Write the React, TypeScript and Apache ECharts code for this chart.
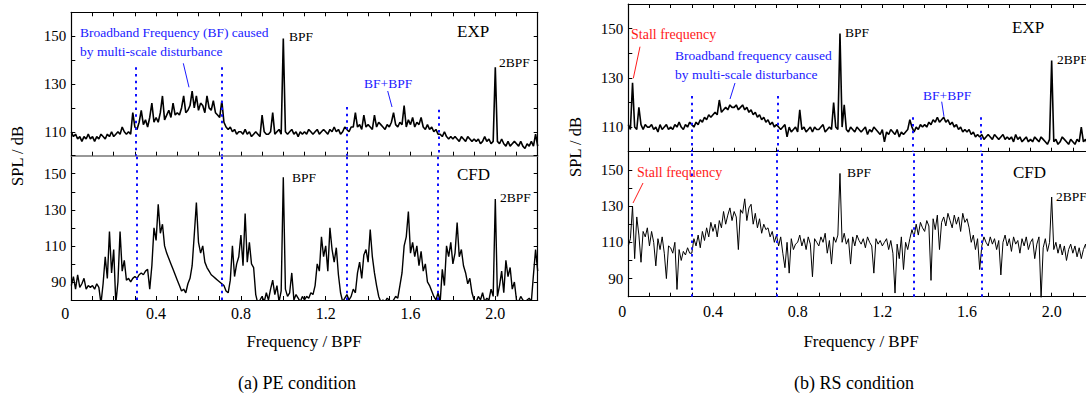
import React, { useEffect, useRef } from "react";
import * as echarts from "echarts";

const FONT = "'Liberation Serif', 'Times New Roman', serif";
const STEP = 0.01;

// SPL (dB) sampled every 0.01 BPF from 0 to 2.2
const peExp = [
  110,108,109,107,108,106,108,107,109,107,
  108,106,108,107,109,108,107,109,108,110,
  108,109,110,109,112,110,109,110,109,118,
  112,111,114,119,113,115,112,116,122,114,
  116,114,118,125,115,117,119,116,122,117,
  118,117,120,125,118,119,121,127,120,125,
  119,122,121,118,125,120,119,123,118,117,
  116,123,114,112,111,112,110,111,109,110,
  110,109,111,109,110,108,109,110,109,108,
  117,110,109,109,110,118,109,110,111,109,
  149,110,109,110,111,109,110,108,110,109,
  110,109,111,110,109,110,111,109,110,111,
  110,109,111,110,112,110,111,109,110,112,
  111,110,112,112,118,112,113,111,117,112,
  113,112,111,117,112,114,113,112,111,113,
  112,114,118,113,112,114,113,121,112,115,
  113,116,112,114,113,116,112,111,113,111,
  112,110,111,109,109,108,110,108,107,108,
  107,108,107,106,108,107,106,108,107,106,
  107,106,107,105,106,108,106,107,105,106,
  137,106,105,107,105,104,106,104,105,106,
  105,104,106,104,103,105,104,106,104,109,
  104,
];

const peCfd = [
  88,93,86,94,87,89,92,86,88,87,
  88,86,89,87,78,89,104,92,118,95,
  108,78,90,118,96,102,91,92,90,92,
  93,92,94,95,94,96,97,86,99,120,
  113,133,117,122,110,106,103,100,97,94,
  91,88,85,86,84,89,92,99,116,134,
  112,106,110,101,98,96,94,93,92,91,
  90,89,88,85,84,91,110,93,100,104,
  116,99,128,101,112,100,98,83,78,80,
  82,79,84,80,86,91,83,88,79,85,
  148,86,82,84,95,80,83,81,79,82,
  80,82,81,84,83,88,100,96,115,104,
  110,96,120,108,101,109,94,84,79,81,
  83,80,82,86,84,95,101,92,105,108,
  101,119,104,95,88,82,79,80,79,81,
  80,79,80,82,81,88,95,110,115,129,
  106,112,104,110,99,107,96,100,90,88,
  85,82,80,84,79,97,88,110,104,112,
  100,106,123,104,108,99,95,89,92,84,
  80,79,82,80,84,79,81,80,86,82,
  136,82,88,96,84,102,93,98,86,90,
  80,79,82,80,79,80,81,79,94,108,
  96,
];

const rsExp = [
  111,109,128,110,109,118,111,109,111,110,
  110,111,109,110,108,111,109,110,111,109,
  110,109,111,110,112,110,109,111,110,112,
  111,110,112,111,113,112,114,113,115,114,
  115,116,115,121,116,117,118,117,119,118,
  118,119,117,118,119,117,118,116,117,115,
  116,114,115,113,114,112,113,111,112,110,
  111,110,109,110,111,106,110,108,109,110,
  108,117,109,110,108,109,110,108,110,109,
  109,110,111,108,109,110,109,120,110,109,
  148,110,119,109,108,110,109,108,110,109,
  108,109,110,107,109,108,110,109,108,107,
  109,104,108,107,109,108,107,109,106,108,
  107,108,109,113,110,108,110,109,111,110,
  111,110,112,111,113,112,114,112,113,114,
  112,113,111,112,110,111,109,110,108,109,
  108,109,107,108,106,107,106,107,105,106,
  107,106,105,107,106,105,106,107,105,106,
  105,106,104,107,105,106,104,105,106,104,
  105,104,106,105,104,106,105,104,103,105,
  137,104,105,103,104,106,105,104,103,105,
  104,103,105,104,110,104,105,103,104,106,
  104,
];

const rsCfd = [
  108,112,130,101,124,114,99,116,113,118,
  108,116,110,97,112,106,113,104,90,108,
  107,104,110,84,106,100,105,103,107,104,
  104,112,108,114,107,116,111,118,113,121,
  116,120,113,122,118,127,120,125,129,122,
  127,124,106,128,126,134,122,129,131,120,
  126,118,123,115,120,117,118,113,116,110,
  114,108,113,104,96,110,93,112,106,109,
  110,114,108,112,106,113,109,91,112,110,
  108,113,110,115,104,111,98,113,110,114,
  148,110,115,109,112,98,113,108,114,111,
  109,112,107,113,110,108,93,112,109,111,
  108,110,112,106,111,104,82,109,101,113,
  95,110,106,112,117,113,120,114,121,118,
  116,122,119,89,123,117,125,106,121,124,
  119,126,122,118,125,120,124,116,126,121,
  123,118,110,114,106,112,95,108,113,110,
  108,113,109,112,106,111,92,110,114,108,
  112,105,113,109,111,104,112,108,113,106,
  110,112,101,109,113,79,107,112,105,110,
  135,106,110,104,109,103,108,100,106,109,
  104,108,102,107,101,106,109,103,107,104,
  106,
];

const xTickLabels = ["0", "0.4", "0.8", "1.2", "1.6", "2.0"];
const yTopLabels = ["110", "130", "150"];
const yBottomLabels = ["90", "110", "130", "150"];

const peBandEdges = [0.306, 0.712, 1.297, 1.734];
const peBandTops = [137, 137, 120.4, 119.2];
const rsBandEdges = [0.3, 0.704, 1.346, 1.666];
const rsBandTops = [122.6, 122.6, 114, 114];

const toPairs = (vals: number[]) =>
  vals.map((v, i) => [Number((i * STEP).toFixed(2)), v]);

const xFormatter = (v: number) => {
  const k = v / 0.4;
  const r = Math.round(k);
  if (Math.abs(k - r) > 1e-6) return "";
  const s = xTickLabels[r];
  if (s === undefined) return "";
  return r === 0 ? "{z|" + s + "}" : s;
};

const xAxisDef = (
  gridIndex: number,
  position: string,
  showLabel: boolean,
  margin: number,
  lineColor = "#000",
  lineWidth = 1.2
) => ({
  type: "value",
  gridIndex,
  position,
  min: 0,
  max: 2.2,
  interval: 0.1,
  axisLine: { show: true, onZero: false, lineStyle: { color: lineColor, width: lineWidth } },
  axisTick: { show: true, inside: true, length: 4, lineStyle: { color: "#000", width: 1 } },
  splitLine: { show: false },
  axisLabel: {
    show: showLabel,
    margin,
    color: "#000",
    fontSize: 16,
    fontFamily: FONT,
    formatter: xFormatter,
    rich: { z: { padding: [0, 12, 0, 0], color: "#000", fontSize: 16, fontFamily: FONT } },
  },
});

const yAxisDef = (
  gridIndex: number,
  position: string,
  min: number,
  labels: string[] | null
) => ({
  type: "value",
  gridIndex,
  position,
  min,
  max: 160,
  interval: 10,
  axisLine: { show: true, onZero: false, lineStyle: { color: "#000", width: 1.2 } },
  axisTick: { show: true, inside: true, length: 4, lineStyle: { color: "#000", width: 1 } },
  splitLine: { show: false },
  axisLabel: {
    show: !!labels,
    margin: 5,
    color: "#000",
    fontSize: 15,
    fontFamily: FONT,
    formatter: (v: number) => (labels && labels.includes(String(v)) ? String(v) : ""),
  },
});

const dotted = { color: "#1010ff", width: 2, type: [2.5, 4.2] as any };

const topMarks = (edges: number[], tops: number[], yMin: number) => ({
  silent: true,
  symbol: ["none", "none"],
  label: { show: false },
  lineStyle: dotted,
  animation: false,
  data: edges.map((x, i) => [{ coord: [x, tops[i]] }, { coord: [x, yMin] }]),
});

const fullMarks = (edges: number[]) => ({
  silent: true,
  symbol: ["none", "none"],
  label: { show: false },
  lineStyle: dotted,
  animation: false,
  data: edges.map((x) => ({ xAxis: x })),
});

const txt = (
  text: string,
  x: number,
  y: number,
  fontSize: number,
  fill = "#000",
  align = "left",
  rotation = 0
) => ({
  type: "text",
  x,
  y,
  rotation,
  silent: true,
  style: { text, fill, fontSize, fontFamily: FONT, align, verticalAlign: "middle" },
});

const seg = (x1: number, y1: number, x2: number, y2: number, stroke: string) => ({
  type: "line",
  silent: true,
  shape: { x1, y1, x2, y2 },
  style: { stroke, lineWidth: 1 },
});

const BLUE = "#1a1aff";
const RED = "#ff1a1a";
const W = 1100; // canvas is a bit wider than the window; the right panel runs past the edge

export default function App() {
  const ref = useRef<HTMLDivElement>(null);
  useEffect(() => {
    if (!ref.current) return;
    const chart = echarts.init(ref.current, undefined, { renderer: "svg" });
    const option: any = {
      animation: false,
      backgroundColor: "#fff",
      textStyle: { fontFamily: FONT },
      grid: [
        { left: 71.3, right: W - 537.7, top: 12.3, bottom: 239.3 },
        { left: 71.3, right: W - 537.7, top: 155.7, bottom: 95 },
        { left: 628.3, right: W - 1094, top: 4, bottom: 243.3 },
        { left: 628.3, right: W - 1094, top: 151.7, bottom: 98.3 },
      ],
      xAxis: [
        xAxisDef(0, "bottom", false, 5, "#777", 1.6),
        xAxisDef(0, "top", false, 5),
        xAxisDef(1, "bottom", true, 5),
        xAxisDef(2, "bottom", false, 5),
        xAxisDef(2, "top", false, 5),
        xAxisDef(3, "bottom", true, 7),
      ],
      yAxis: [
        yAxisDef(0, "left", 100, yTopLabels),
        yAxisDef(0, "right", 100, null),
        yAxisDef(1, "left", 80, yBottomLabels),
        yAxisDef(1, "right", 80, null),
        yAxisDef(2, "left", 100, yTopLabels),
        yAxisDef(2, "right", 100, null),
        yAxisDef(3, "left", 80, yBottomLabels),
        yAxisDef(3, "right", 80, null),
      ],
      series: [
        {
          type: "line",
          xAxisIndex: 0,
          yAxisIndex: 0,
          data: toPairs(peExp),
          showSymbol: false,
          symbol: "none",
          clip: true,
          lineStyle: { color: "#000", width: 1.6 },
          markLine: topMarks(peBandEdges, peBandTops, 100),
        },
        {
          type: "line",
          xAxisIndex: 2,
          yAxisIndex: 2,
          data: toPairs(peCfd),
          showSymbol: false,
          symbol: "none",
          clip: true,
          lineStyle: { color: "#000", width: 1.4 },
          markLine: fullMarks(peBandEdges),
        },
        {
          type: "line",
          xAxisIndex: 3,
          yAxisIndex: 4,
          data: toPairs(rsExp),
          showSymbol: false,
          symbol: "none",
          clip: true,
          lineStyle: { color: "#000", width: 1.6 },
          markLine: topMarks(rsBandEdges, rsBandTops, 100),
        },
        {
          type: "line",
          xAxisIndex: 5,
          yAxisIndex: 6,
          data: toPairs(rsCfd),
          showSymbol: false,
          symbol: "none",
          clip: true,
          lineStyle: { color: "#000", width: 1 },
          markLine: fullMarks(rsBandEdges),
        },
      ],
      graphic: [
        // left panel annotations
        txt("Broadband Frequency (BF) caused", 80, 32, 13.5, BLUE),
        txt("by multi-scale disturbance", 80, 51, 13.5, BLUE),
        seg(183.3, 63.3, 189, 87.3, BLUE),
        txt("BPF", 289, 36, 13.5),
        txt("EXP", 457, 31, 17),
        txt("2BPF", 499, 62, 13.5),
        txt("BF+BPF", 364, 83, 13.5, BLUE),
        seg(387.7, 91, 392, 107, BLUE),
        txt("BPF", 292, 177, 13.5),
        txt("CFD", 457, 174, 17),
        txt("2BPF", 500, 197.5, 13.5),
        // right panel annotations
        txt("Stall frequency", 631, 34, 14, RED),
        seg(640, 46.7, 633.3, 78.3, RED),
        txt("Broadband frequency caused", 675, 55, 13.5, BLUE),
        txt("by multi-scale disturbance", 675, 74, 13.5, BLUE),
        seg(735, 83, 730, 99, BLUE),
        txt("BPF", 845, 32, 13.5),
        txt("EXP", 1012, 27, 17),
        txt("2BPF", 1057, 59, 13.5),
        txt("BF+BPF", 923, 95, 13.5, BLUE),
        seg(941.7, 101.7, 944, 116.7, BLUE),
        txt("Stall frequency", 637, 172, 14, RED),
        seg(643, 183, 633, 203, RED),
        txt("BPF", 847, 172, 13.5),
        txt("CFD", 1013, 172, 17),
        txt("2BPF", 1056, 196, 13.5),
        // axis titles and captions
        txt("SPL / dB", 17, 156, 16.5, "#000", "center", Math.PI / 2),
        txt("SPL / dB", 575, 147, 16.5, "#000", "center", Math.PI / 2),
        txt("Frequency / BPF", 304, 341, 17, "#000", "center"),
        txt("Frequency / BPF", 861, 341, 17, "#000", "center"),
        txt("(a) PE condition", 297, 383, 18, "#000", "center"),
        txt("(b) RS condition", 854, 383, 18, "#000", "center"),
      ],
    };
    chart.setOption(option);
    return () => chart.dispose();
  }, []);
  return (
    <div
      ref={ref}
      style={{ position: "fixed", left: 0, top: 0, width: W, height: 395, background: "#fff" }}
    />
  );
}
